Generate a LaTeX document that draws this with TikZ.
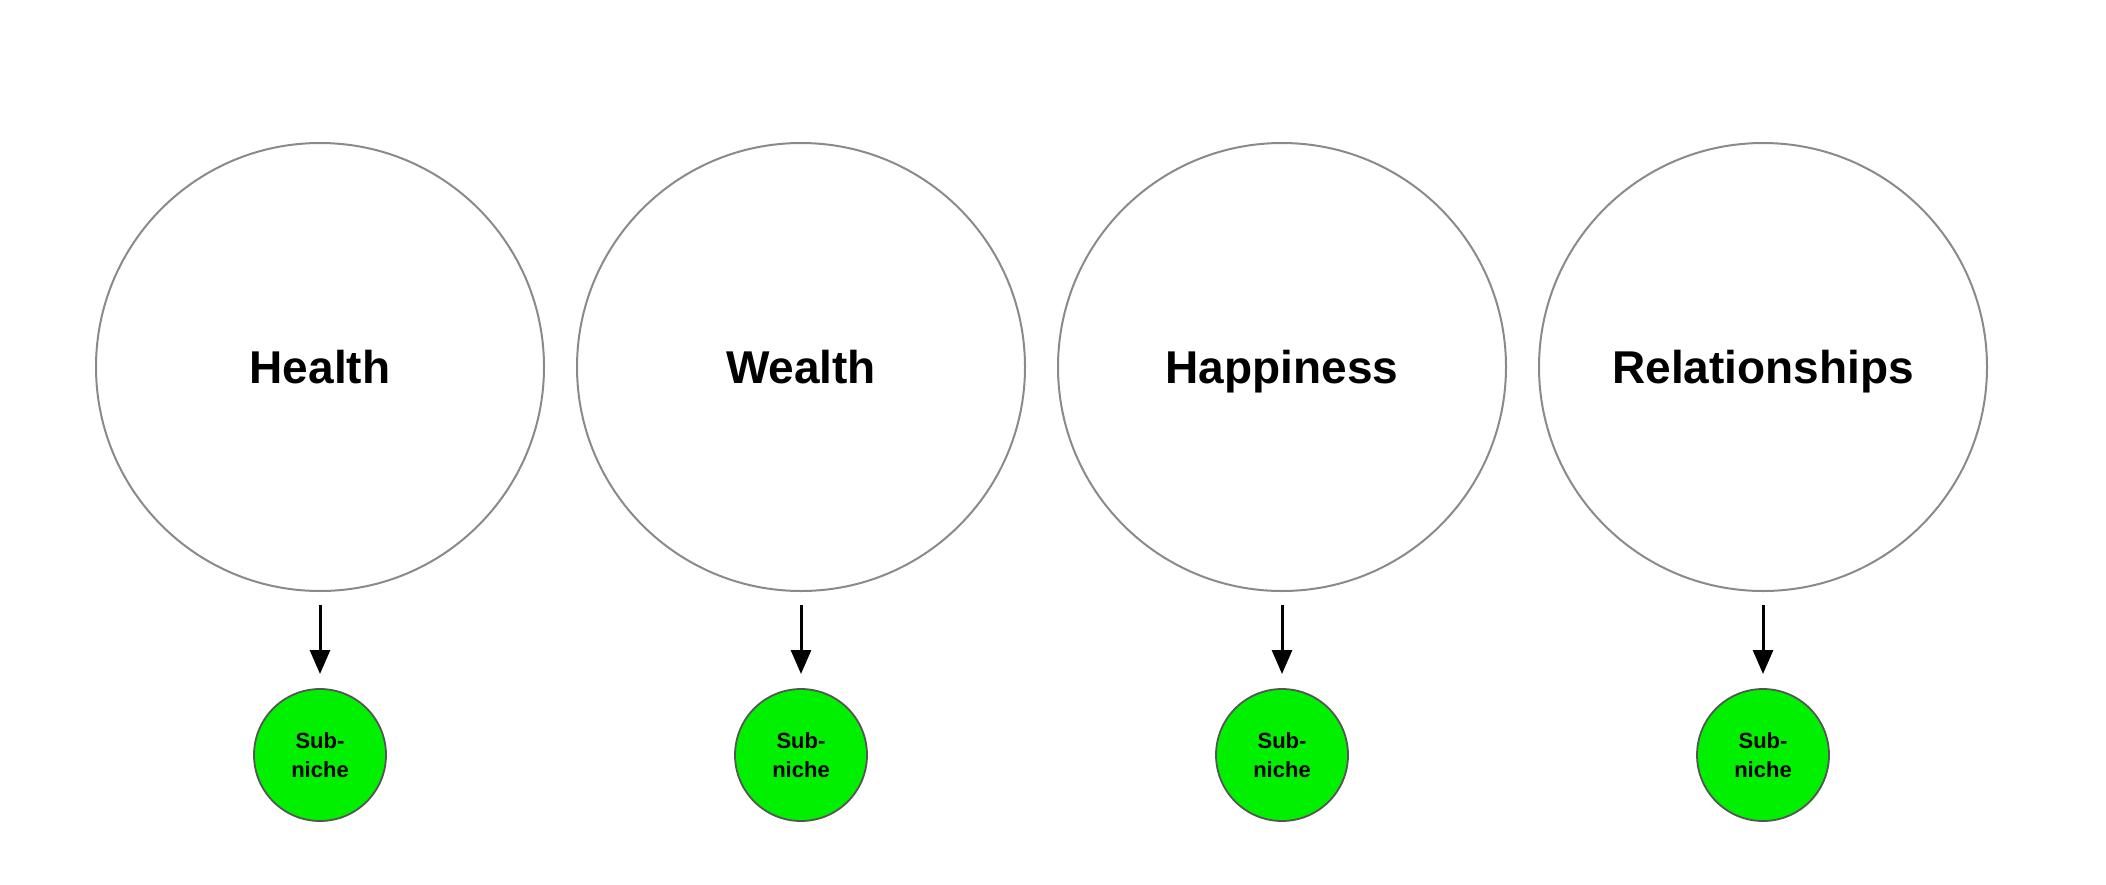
\documentclass[tikz,border=0pt]{standalone}
\usepackage{fontspec}
\setmainfont{Liberation Sans}
\usetikzlibrary{arrows.meta}
\definecolor{ringgray}{HTML}{8A8A8A}
\definecolor{subgreen}{HTML}{00F000}
\definecolor{subedge}{HTML}{555555}
\begin{document}
\begin{tikzpicture}[x=1pt,y=-1pt,
  bigcircle/.style={circle,draw=ringgray,line width=2pt,minimum size=448pt,inner sep=0pt,text height=33pt,text depth=0pt,font=\fontsize{46}{50}\selectfont\bfseries},
  subcircle/.style={circle,draw=subedge,fill=subgreen,line width=1.8pt,minimum size=132pt,inner sep=0pt,align=center,font=\fontsize{22}{29}\selectfont\bfseries},
  downarrow/.style={-{Triangle[width=20pt,length=24pt]},line width=3pt,black}]
\useasboundingbox (0,0) rectangle (2106,884);
\foreach \x/\name/\lab in {320/a/Health,801/b/Wealth,1282/c/Happiness,1763/d/Relationships}{
  \node[bigcircle] (\name) at (\x,367) {\lab};
  \node[subcircle] (\name s) at (\x,755) {Sub-\\niche};
  \coordinate (\name t) at (\x,605);
  \coordinate (\name h) at (\x,674);
  \draw[downarrow] (\name t) -- (\name h);
}
\end{tikzpicture}
\end{document}
